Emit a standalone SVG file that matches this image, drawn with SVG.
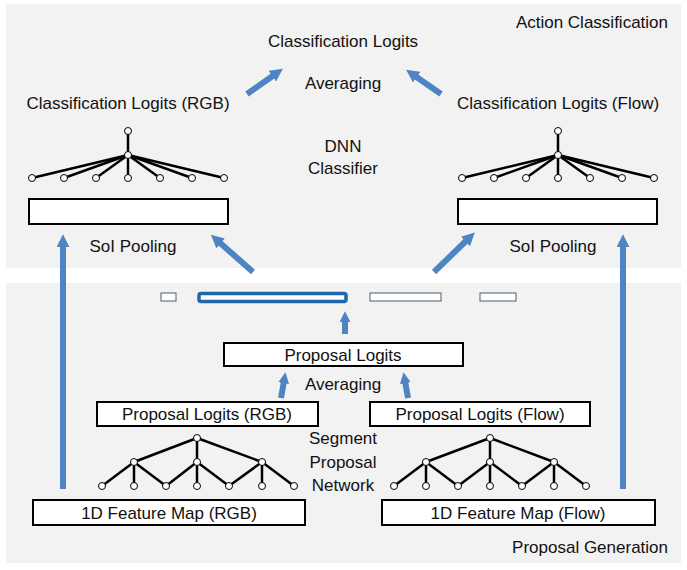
<svg xmlns="http://www.w3.org/2000/svg" width="687" height="570" viewBox="0 0 687 570">
<defs>
<style>
text{font-family:"Liberation Sans",Arial,sans-serif;font-size:17px;fill:#111}
.c{text-anchor:middle}
.r{text-anchor:end}
.box{fill:#fff;stroke:#000;stroke-width:2}
.tl{stroke:#000;stroke-width:2.5;fill:none}
.nd{fill:#fff;stroke:#000;stroke-width:1}
.arr{stroke:#4f84c4;stroke-width:6;fill:none}
.sb{fill:#fff;stroke:#4a5a6a;stroke-width:1}
</style>
<marker id="ah" viewBox="0 0 12 12" refX="2" refY="6" markerWidth="13" markerHeight="13" markerUnits="userSpaceOnUse" orient="auto">
<path d="M0,0 L12,6 L0,12 Z" fill="#4f84c4"/>
</marker>
<marker id="ahs" viewBox="0 0 10 10" refX="2" refY="5" markerWidth="11" markerHeight="11" markerUnits="userSpaceOnUse" orient="auto">
<path d="M0,0 L10,5 L0,10 Z" fill="#4f84c4"/>
</marker>
</defs>
<rect x="0" y="0" width="687" height="570" fill="#fff"/>
<rect id="panel-top" x="6" y="4" width="675" height="264" fill="#f2f2f2"/>
<rect id="panel-bottom" x="6" y="283" width="675" height="280" fill="#f2f2f2"/>

<g id="connectors">
<line class="arr" x1="63" y1="489" x2="63" y2="245" marker-end="url(#ah)"/>
<line class="arr" x1="623" y1="489" x2="623" y2="245" marker-end="url(#ah)"/>
<line class="arr" x1="253" y1="272" x2="219" y2="242" marker-end="url(#ah)"/>
<line class="arr" x1="434" y1="272" x2="467" y2="240" marker-end="url(#ah)"/>
<line class="arr" x1="247" y1="94" x2="274" y2="75" marker-end="url(#ah)"/>
<line class="arr" x1="441" y1="94" x2="415" y2="76" marker-end="url(#ah)"/>
<line class="arr" x1="345" y1="334" x2="345" y2="320" marker-end="url(#ahs)"/>
<line class="arr" x1="281" y1="398" x2="284" y2="381" marker-end="url(#ahs)"/>
<line class="arr" x1="408" y1="398" x2="405" y2="381" marker-end="url(#ahs)"/>
</g>

<g id="labels-top">
<text class="r" x="668" y="28">Action Classification</text>
<text class="c" x="343" y="47">Classification Logits</text>
<text class="c" x="343" y="89">Averaging</text>
<text class="c" x="343" y="152">DNN</text>
<text class="c" x="343" y="174">Classifier</text>
</g>

<g id="cls-rgb">
<text class="c" x="128" y="109">Classification Logits (RGB)</text>
<g class="tl">
<line x1="128" y1="131" x2="128" y2="155"/>
<line x1="128" y1="155" x2="32" y2="178"/>
<line x1="128" y1="155" x2="64" y2="178"/>
<line x1="128" y1="155" x2="96" y2="178"/>
<line x1="128" y1="155" x2="128" y2="178"/>
<line x1="128" y1="155" x2="160" y2="178"/>
<line x1="128" y1="155" x2="192" y2="178"/>
<line x1="128" y1="155" x2="224" y2="178"/>
</g>
<g class="nd">
<circle cx="128" cy="131" r="3.5"/><circle cx="128" cy="155" r="3.5"/>
<circle cx="32" cy="178" r="3.5"/><circle cx="64" cy="178" r="3.5"/><circle cx="96" cy="178" r="3.5"/><circle cx="128" cy="178" r="3.5"/><circle cx="160" cy="178" r="3.5"/><circle cx="192" cy="178" r="3.5"/><circle cx="224" cy="178" r="3.5"/>
</g>
<rect class="box" x="29" y="199" width="199" height="25" stroke-width="1.5"/>
<text class="c" x="133" y="252">SoI Pooling</text>
</g>

<g id="cls-flow">
<text class="c" x="558" y="109">Classification Logits (Flow)</text>
<g class="tl">
<line x1="558" y1="131" x2="558" y2="155"/>
<line x1="558" y1="155" x2="462" y2="178"/>
<line x1="558" y1="155" x2="494" y2="178"/>
<line x1="558" y1="155" x2="526" y2="178"/>
<line x1="558" y1="155" x2="558" y2="178"/>
<line x1="558" y1="155" x2="590" y2="178"/>
<line x1="558" y1="155" x2="622" y2="178"/>
<line x1="558" y1="155" x2="654" y2="178"/>
</g>
<g class="nd">
<circle cx="558" cy="131" r="3.5"/><circle cx="558" cy="155" r="3.5"/>
<circle cx="462" cy="178" r="3.5"/><circle cx="494" cy="178" r="3.5"/><circle cx="526" cy="178" r="3.5"/><circle cx="558" cy="178" r="3.5"/><circle cx="590" cy="178" r="3.5"/><circle cx="622" cy="178" r="3.5"/><circle cx="654" cy="178" r="3.5"/>
</g>
<rect class="box" x="458" y="199" width="199" height="25" stroke-width="1.5"/>
<text class="c" x="553" y="252">SoI Pooling</text>
</g>

<g id="segments">
<rect class="sb" x="161" y="293" width="15" height="8"/>
<rect x="199" y="293.5" width="147" height="8" rx="2" fill="#fff" stroke="#1f66ad" stroke-width="3.5"/>
<rect class="sb" x="370" y="293" width="71" height="8"/>
<rect class="sb" x="480" y="293" width="36" height="8"/>
</g>

<g id="proposal-logits">
<rect class="box" x="224" y="343" width="239" height="23"/>
<text class="c" x="343" y="361">Proposal Logits</text>
<text class="c" x="343" y="390">Averaging</text>
</g>

<g id="prop-rgb">
<rect class="box" x="97" y="402" width="221" height="24"/>
<text class="c" x="207" y="420">Proposal Logits (RGB)</text>
<g class="tl">
<line x1="197" y1="438" x2="134" y2="462"/>
<line x1="197" y1="438" x2="197" y2="462"/>
<line x1="197" y1="438" x2="262" y2="462"/>
<line x1="134" y1="462" x2="102" y2="486"/>
<line x1="134" y1="462" x2="134" y2="486"/>
<line x1="134" y1="462" x2="166" y2="486"/>
<line x1="197" y1="462" x2="166" y2="486"/>
<line x1="197" y1="462" x2="197" y2="486"/>
<line x1="197" y1="462" x2="229" y2="486"/>
<line x1="262" y1="462" x2="229" y2="486"/>
<line x1="262" y1="462" x2="262" y2="486"/>
<line x1="262" y1="462" x2="294" y2="486"/>
</g>
<g class="nd">
<circle cx="197" cy="438" r="3.5"/>
<circle cx="134" cy="462" r="3.5"/><circle cx="197" cy="462" r="3.5"/><circle cx="262" cy="462" r="3.5"/>
<circle cx="102" cy="486" r="3.5"/><circle cx="134" cy="486" r="3.5"/><circle cx="166" cy="486" r="3.5"/><circle cx="197" cy="486" r="3.5"/><circle cx="229" cy="486" r="3.5"/><circle cx="262" cy="486" r="3.5"/><circle cx="294" cy="486" r="3.5"/>
</g>
</g>

<g id="prop-flow">
<rect class="box" x="370" y="402" width="220" height="24"/>
<text class="c" x="480" y="420">Proposal Logits (Flow)</text>
<g class="tl">
<line x1="490" y1="438" x2="426" y2="462"/>
<line x1="490" y1="438" x2="490" y2="462"/>
<line x1="490" y1="438" x2="554" y2="462"/>
<line x1="426" y1="462" x2="394" y2="486"/>
<line x1="426" y1="462" x2="426" y2="486"/>
<line x1="426" y1="462" x2="458" y2="486"/>
<line x1="490" y1="462" x2="458" y2="486"/>
<line x1="490" y1="462" x2="490" y2="486"/>
<line x1="490" y1="462" x2="522" y2="486"/>
<line x1="554" y1="462" x2="522" y2="486"/>
<line x1="554" y1="462" x2="554" y2="486"/>
<line x1="554" y1="462" x2="586" y2="486"/>
</g>
<g class="nd">
<circle cx="490" cy="438" r="3.5"/>
<circle cx="426" cy="462" r="3.5"/><circle cx="490" cy="462" r="3.5"/><circle cx="554" cy="462" r="3.5"/>
<circle cx="394" cy="486" r="3.5"/><circle cx="426" cy="486" r="3.5"/><circle cx="458" cy="486" r="3.5"/><circle cx="490" cy="486" r="3.5"/><circle cx="522" cy="486" r="3.5"/><circle cx="554" cy="486" r="3.5"/><circle cx="586" cy="486" r="3.5"/>
</g>
</g>

<g id="spn-label">
<text class="c" x="343" y="444">Segment</text>
<text class="c" x="343" y="468">Proposal</text>
<text class="c" x="343" y="491">Network</text>
</g>

<g id="feat-rgb">
<rect class="box" x="33" y="500" width="272" height="25"/>
<text class="c" x="169" y="519">1D Feature Map (RGB)</text>
</g>
<g id="feat-flow">
<rect class="box" x="382" y="500" width="273" height="25"/>
<text class="c" x="518" y="519">1D Feature Map (Flow)</text>
</g>

<text class="r" x="668" y="553">Proposal Generation</text>
</svg>
